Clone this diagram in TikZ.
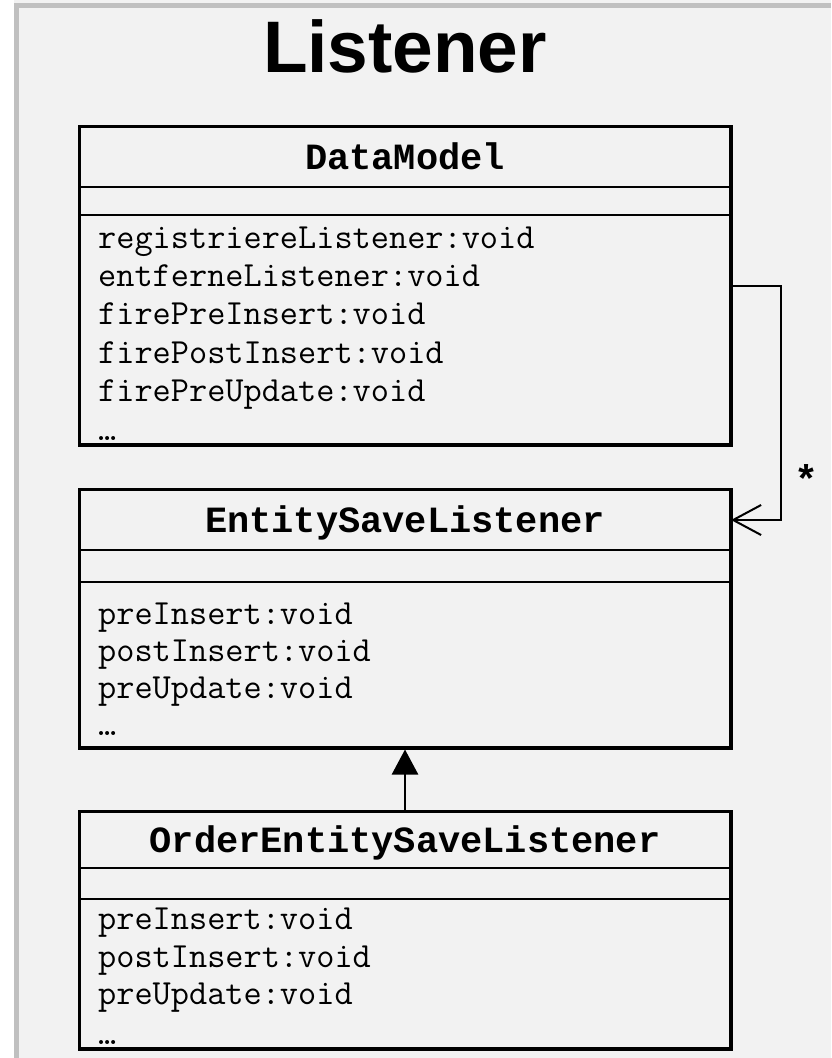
\documentclass[tikz,border=0pt]{standalone}
\usepackage{fontspec}
\setmainfont{Liberation Sans}
\newfontfamily\classfont{Liberation Mono}
\usepackage{tikz}
\usetikzlibrary{arrows.meta,fit}

\definecolor{pagegray}{HTML}{F2F2F2}
\definecolor{edgegray}{HTML}{C0C0C0}

\tikzset{
  compbox/.style={draw, line width=2pt, minimum width=650pt, inner sep=0pt},
  classname/.style={compbox, font=\classfont\bfseries\fontsize{37}{40}\selectfont, text height=24pt, text depth=0pt},
  method/.style={anchor=base west, inner sep=0pt, font=\ttfamily\fontsize{35.3}{38}\selectfont},
  classframe/.style={draw, line width=3pt, inner sep=0pt},
  assoc/.style={line width=2pt, -{Straight Barb[length=28pt,width=30pt,line width=2pt]}},
  inherit/.style={line width=2.5pt, -{Triangle[length=25pt,width=26pt]}},
}

\begin{document}
\begin{tikzpicture}[x=1pt,y=-1pt]
\useasboundingbox (0,0) rectangle (831,1058);
\fill[pagegray] (0,0) rectangle (831,1058);
\fill[white] (0,0) rectangle (14,1058);
\fill[edgegray] (14,3) rectangle (19,1058);
\fill[edgegray] (14,3) rectangle (831,8);

\node[anchor=base, inner sep=0pt, font=\bfseries\fontsize{73}{80}\selectfont] (heading) at (405,72) {Listener};

% DataModel
\node[classname, minimum height=60pt] (dmtitle) at (405,157) {DataModel};
\node[compbox, minimum height=28pt] (dmattr) at (405,201) {};
\node[compbox, minimum height=229pt] (dmops) at (405,329.5) {};
\node[classframe, fit=(dmtitle)(dmops)] (dm) {};
\node[method] (dm1) at (98,248) {registriereListener:void};
\node[method] (dm2) at (98,286.4) {entferneListener:void};
\node[method] (dm3) at (98,324.8) {firePreInsert:void};
\node[method] (dm4) at (98,363.2) {firePostInsert:void};
\node[method] (dm5) at (98,401.6) {firePreUpdate:void};
\node[method] (dm6) at (98,440) {…};

% EntitySaveListener
\node[classname, minimum height=60pt] (esltitle) at (405,520) {EntitySaveListener};
\node[compbox, minimum height=32pt] (eslattr) at (405,566) {};
\node[compbox, minimum height=165pt] (eslops) at (405,664.5) {};
\node[classframe, fit=(esltitle)(eslops)] (esl) {};
\node[method] (esl1) at (98,624) {preInsert:void};
\node[method] (esl2) at (98,661) {postInsert:void};
\node[method] (esl3) at (98,698) {preUpdate:void};
\node[method] (esl4) at (98,735) {…};

% OrderEntitySaveListener
\node[classname, minimum height=56pt] (oesltitle) at (405,840) {OrderEntitySaveListener};
\node[compbox, minimum height=31pt] (oeslattr) at (405,883.5) {};
\node[compbox, minimum height=149pt] (oeslops) at (405,973.5) {};
\node[classframe, fit=(oesltitle)(oeslops)] (oesl) {};
\node[method] (oesl1) at (98,929) {preInsert:void};
\node[method] (oesl2) at (98,967) {postInsert:void};
\node[method] (oesl3) at (98,1004) {preUpdate:void};
\node[method] (oesl4) at (98,1044) {…};

% connectors
\draw[assoc] (dm.east) -- ++(48,0) |- (esltitle.east);
\node[anchor=base, inner sep=0pt, font=\classfont\bfseries\fontsize{40}{40}\selectfont] (mult) at (806,493) {*};
\draw[inherit] (oesl) -- (esl);

\end{tikzpicture}
\end{document}
